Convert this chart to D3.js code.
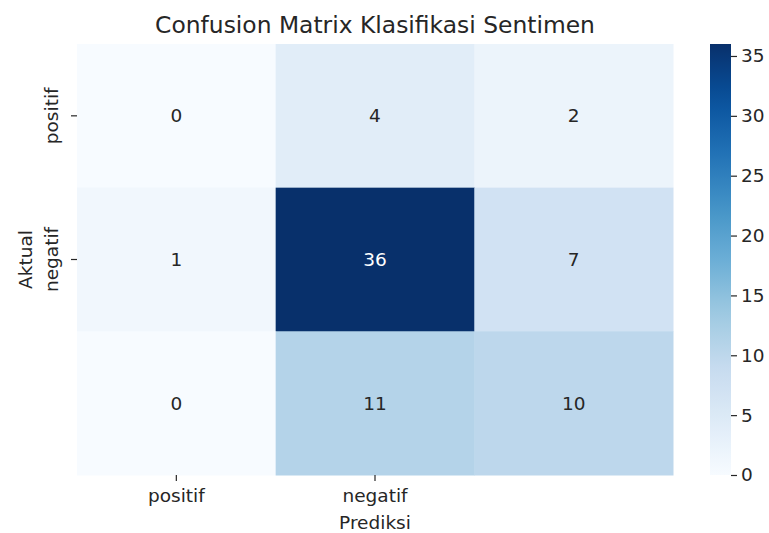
<!DOCTYPE html>
<html>
<head>
<meta charset="utf-8">
<script src="https://cdn.jsdelivr.net/npm/d3@7"></script>
<style>
  html, body { margin: 0; padding: 0; background: #ffffff; }
  svg { display: block; font-family: "DejaVu Sans", sans-serif; }
</style>
</head>
<body>
<svg id="chart" width="769" height="533"></svg>
<script>
// ---- data ----
const actualLabels = ["positif", "negatif", "netral"];
const predictedLabels = ["positif", "negatif", "netral"];
const shownTickLabels = ["positif", "negatif"];
const rowPositif = [0, 4, 2];
const rowNegatif = [1, 36, 7];
const rowNetral = [0, 11, 10];
const matrix = [rowPositif, rowNegatif, rowNetral];
const colorbarTicks = [0, 5, 10, 15, 20, 25, 30, 35];
const titleText = "Confusion Matrix Klasifikasi Sentimen";
const xTitle = "Prediksi";
const yTitle = "Aktual";

// matplotlib "Blues" colormap anchors
const bluesStops = ["#f7fbff", "#deebf7", "#c6dbef", "#9ecae1", "#6baed6", "#4292c6", "#2171b5", "#08519c", "#08306b"];

(function () {
const svg = d3.select("#chart");
const pLeft = 77, pRight = 673, pTop = 44, pBottom = 475;
const tickFont = 18.5;

const vmax = d3.max(matrix.flat());
const vmin = d3.min(matrix.flat());
const color = d3.scaleLinear()
  .domain(d3.range(bluesStops.length).map(i => vmin + (vmax - vmin) * i / (bluesStops.length - 1)))
  .range(bluesStops)
  .interpolate(d3.interpolateRgb)
  .clamp(true);

const x = d3.scaleBand().domain(predictedLabels).range([pLeft, pRight]);
const y = d3.scaleBand().domain(actualLabels).range([pTop, pBottom]);

const cells = [];
matrix.forEach((row, i) => row.forEach((v, j) => cells.push({ r: actualLabels[i], c: predictedLabels[j], v })));

function lum(c) {
  const rgb = d3.rgb(c);
  const f = u => { u /= 255; return u <= 0.03928 ? u / 12.92 : Math.pow((u + 0.055) / 1.055, 2.4); };
  return 0.2126 * f(rgb.r) + 0.7152 * f(rgb.g) + 0.0722 * f(rgb.b);
}

svg.append("g").selectAll("rect").data(cells).join("rect")
  .attr("x", d => x(d.c))
  .attr("y", d => y(d.r))
  .attr("width", x.bandwidth() + 0.5)
  .attr("height", y.bandwidth() + 0.5)
  .attr("fill", d => color(d.v));

svg.append("g").selectAll("text").data(cells).join("text")
  .attr("x", d => x(d.c) + x.bandwidth() / 2)
  .attr("y", d => y(d.r) + y.bandwidth() / 2)
  .attr("text-anchor", "middle")
  .attr("dominant-baseline", "central")
  .attr("font-size", tickFont)
  .attr("fill", d => lum(color(d.v)) < 0.408 ? "#ffffff" : "#262626")
  .text(d => d.v);

// x axis ticks (only two labels present in reference)
const xTicks = svg.append("g");
shownTickLabels.forEach((lab, i) => {
  const cx = x(predictedLabels[i]) + x.bandwidth() / 2;
  xTicks.append("line").attr("x1", cx).attr("x2", cx).attr("y1", pBottom).attr("y2", pBottom + 6)
    .attr("stroke", "#262626").attr("stroke-width", 1.2);
  xTicks.append("text").attr("x", cx).attr("y", 502).attr("text-anchor", "middle")
    .attr("font-size", tickFont).attr("fill", "#262626").text(lab);
});

// y axis ticks
const yTicks = svg.append("g");
shownTickLabels.forEach((lab, i) => {
  const cy = y(actualLabels[i]) + y.bandwidth() / 2;
  yTicks.append("line").attr("x1", pLeft - 6).attr("x2", pLeft).attr("y1", cy).attr("y2", cy)
    .attr("stroke", "#262626").attr("stroke-width", 1.2);
  yTicks.append("text").attr("transform", `translate(58,${cy}) rotate(-90)`).attr("text-anchor", "middle")
    .attr("font-size", tickFont).attr("fill", "#262626").text(lab);
});

// axis titles
svg.append("text").attr("x", (pLeft + pRight) / 2).attr("y", 529).attr("text-anchor", "middle")
  .attr("font-size", tickFont).attr("fill", "#262626").text(xTitle);
svg.append("text").attr("transform", `translate(31.5,${(pTop + pBottom) / 2}) rotate(-90)`).attr("text-anchor", "middle")
  .attr("font-size", tickFont).attr("fill", "#262626").text(yTitle);

// title
svg.append("text").attr("x", (pLeft + pRight) / 2).attr("y", 33).attr("text-anchor", "middle")
  .attr("font-size", 23.4).attr("fill", "#262626").text(titleText);

// colorbar
const cbLeft = 710, cbRight = 731;
const cbScale = d3.scaleLinear().domain([vmin, vmax]).range([pBottom, pTop]);
const defs = svg.append("defs");
const grad = defs.append("linearGradient").attr("id", "cbgrad")
  .attr("x1", 0).attr("y1", 1).attr("x2", 0).attr("y2", 0);
d3.range(0, 1.0001, 0.05).forEach(t => {
  grad.append("stop").attr("offset", t).attr("stop-color", color(vmin + t * (vmax - vmin)));
});
svg.append("rect").attr("x", cbLeft).attr("y", pTop).attr("width", cbRight - cbLeft).attr("height", pBottom - pTop)
  .attr("fill", "url(#cbgrad)");
const cbAxis = d3.axisRight(cbScale).tickValues(colorbarTicks).tickSize(6).tickPadding(4);
const cbG = svg.append("g").attr("transform", `translate(${cbRight},0)`).call(cbAxis);
cbG.select(".domain").remove();
cbG.selectAll("line").attr("stroke", "#262626").attr("stroke-width", 1.2);
cbG.selectAll("text").attr("font-size", tickFont).attr("fill", "#262626")
  .attr("font-family", "DejaVu Sans, sans-serif");
})();
</script>
</body>
</html>
